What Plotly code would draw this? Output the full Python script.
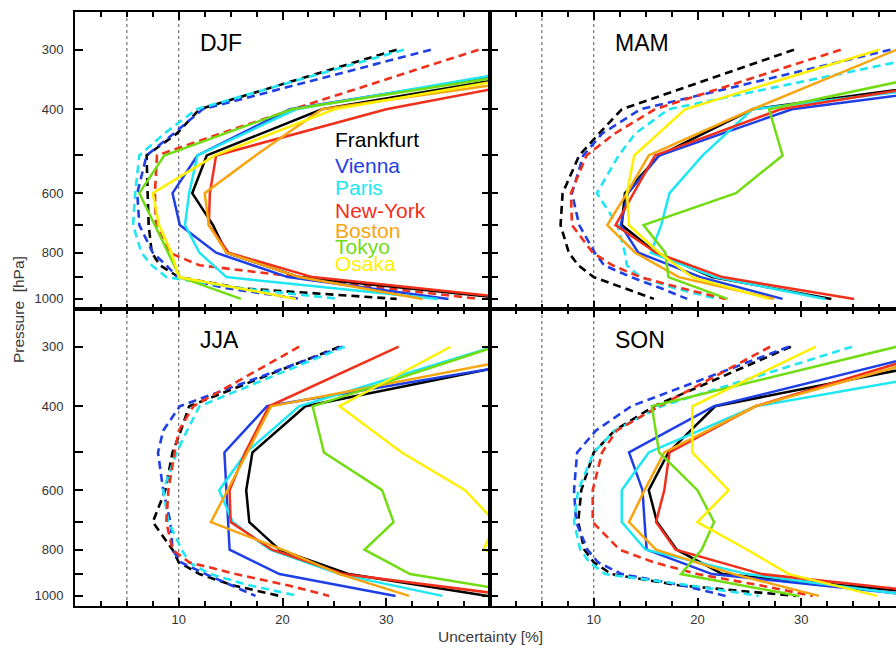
import math
import plotly.graph_objects as go

# ---------------- data ----------------
P_SOLID = [300, 400, 500, 600, 700, 800, 900, 1000]
P_DASHED = [300, 400, 450, 500, 600, 700, 800, 850, 900, 950, 1000]

CITIES = ["Frankfurt", "Vienna", "Paris", "New-York", "Boston", "Tokyo", "Osaka"]
DASHED_CITIES = ["Frankfurt", "Vienna", "Paris", "New-York"]
SEASONS = ["DJF", "MAM", "JJA", "SON"]

DJF_SOLID = {
    "Frankfurt": [58, 23.8, 12.7, 11.3, 13.3, 14.6, 21.6, 42],
    "Vienna":    [56.5, 20.7, 11.8, 9.4, 10.1, 13.6, 20.5, 36.0],
    "Paris":     [54.5, 21.3, 11.8, 11.0, 10.6, 12.0, 14.6, 35.0],
    "New-York":  [60, 30, 13.6, 13.0, 12.9, 14.8, 22.9, 43],
    "Boston":    [64.3, 23.8, 17.4, 12.5, 12.9, 14.6, 21.6, 33.5],
    "Tokyo":     [57.9, 20.9, 8.6, 6.2, 7.7, 9.0, 10.1, 16.0],
    "Osaka":     [58, 25, 13.5, 7.5, 8.1, 9.3, 10.0, 21.3],
}
DJF_DASHED = {
    "Frankfurt": [31, 12.0, 9.8, 6.9, 7.0, 7.1, 7.4, 8.2, 10.0, 16.0, 31.0],
    "Vienna":    [34.3, 12.3, 9.5, 6.9, 6.0, 6.2, 7.5, 8.8, 9.9, 14.6, 21.8],
    "Paris":     [31.7, 11.7, 8.6, 6.2, 5.8, 5.6, 6.4, 7.4, 8.8, 16.0, 25.5],
    "New-York":  [38.9, 21.0, 14.0, 7.9, 7.7, 7.8, 9.1, 12.0, 21.6, 30.0, 39.0],
}
MAM_SOLID = {
    "Frankfurt": [68, 25.3, 16.3, 13.0, 12.7, 16.0, 21.4, 32.9],
    "Vienna":    [73, 29.1, 16.3, 13.3, 12.6, 14.3, 20.3, 28.2],
    "Paris":     [74, 25.3, 20.5, 17.3, 16.5, 15.5, 21.7, 32.3],
    "New-York":  [64, 28.0, 15.9, 13.8, 12.1, 16.0, 22.4, 35.1],
    "Boston":    [39.2, 25.3, 15.3, 13.2, 11.3, 14.0, 18.2, 27.4],
    "Tokyo":     [54, 26.9, 28.2, 23.7, 14.8, 16.9, 17.2, 22.9],
    "Osaka":     [37.5, 18.8, 13.9, 13.2, 13.4, 16.3, 19.5, 26.9],
}
MAM_DASHED = {
    "Frankfurt": [29.3, 12.7, 10.5, 8.6, 7.0, 6.8, 7.6, 8.5, 10.0, 13.0, 15.8],
    "Vienna":    [38.6, 14.5, 10.8, 9.0, 7.9, 8.6, 10.1, 11.0, 13.6, 16.5, 19.0],
    "Paris":     [45.0, 17.2, 14.0, 12.4, 10.3, 12.3, 13.0, 13.2, 14.5, 17.8, 21.9],
    "New-York":  [33.8, 15.9, 12.0, 9.3, 7.8, 7.9, 9.9, 11.8, 14.5, 18.5, 22.7],
}
JJA_SOLID = {
    "Frankfurt": [50.6, 22.2, 17.1, 16.5, 16.8, 19.7, 26.4, 39.8],
    "Vienna":    [52.8, 18.5, 14.4, 14.6, 14.7, 14.9, 19.7, 30.9],
    "Paris":     [40.3, 21.6, 16.5, 13.9, 15.2, 18.8, 25.5, 35.4],
    "New-York":  [31.2, 18.7, 16.4, 14.9, 15.0, 19.0, 25.9, 42.5],
    "Boston":    [48.6, 18.9, 16.6, 14.7, 13.1, 20.0, 25.5, 32.2],
    "Tokyo":     [40.5, 22.9, 24.0, 29.6, 30.7, 27.9, 32.3, 45],
    "Osaka":     [36.2, 25.5, 31.5, 37.6, 40.5, 39.4, 48, 55],
}
JJA_DASHED = {
    "Frankfurt": [25.5, 11.0, 10.2, 9.4, 8.7, 7.5, 9.4, 10.0, 12.0, 15.2, 19.7],
    "Vienna":    [25.8, 10.1, 8.5, 8.0, 8.5, 9.2, 9.4, 10.2, 12.6, 15.1, 17.4],
    "Paris":     [26.0, 12.0, 10.8, 9.8, 8.5, 9.0, 10.3, 11.0, 13.0, 16.8, 21.5],
    "New-York":  [21.6, 11.4, 10.0, 9.6, 9.0, 8.8, 9.4, 11.0, 15.5, 20.5, 24.5],
}
SON_SOLID = {
    "Frankfurt": [50.8, 21.7, 17.2, 15.3, 16.1, 18.0, 22.4, 45],
    "Vienna":    [44.8, 21.6, 13.4, 14.7, 14.9, 15.1, 21.4, 41.5],
    "Paris":     [58.4, 25.6, 15.3, 12.7, 12.7, 15.0, 24.8, 41],
    "New-York":  [44.6, 25.6, 17.3, 16.8, 16.0, 17.9, 26.2, 45.6],
    "Boston":    [46.2, 25.6, 16.8, 14.9, 13.4, 16.0, 23.5, 31.7],
    "Tokyo":     [39.2, 15.6, 16.3, 20.0, 21.6, 20.4, 18.4, 29.8],
    "Osaka":     [31.4, 19.5, 19.5, 23.0, 20.0, 24.8, 28.8, 37.3],
}
SON_DASHED = {
    "Frankfurt": [29.0, 15.8, 12.0, 10.0, 8.8, 8.5, 9.1, 10.0, 11.7, 18.2, 29.5],
    "Vienna":    [28.8, 13.6, 10.2, 8.4, 8.1, 8.3, 9.4, 10.4, 12.7, 18.5, 22.7],
    "Paris":     [34.9, 16.5, 12.0, 10.0, 8.5, 8.1, 8.7, 9.6, 11.1, 19.2, 25.9],
    "New-York":  [27.0, 16.3, 12.2, 10.8, 9.9, 9.9, 12.5, 15.8, 20.0, 26.0, 31.1],
}

Y_TICKS = [300, 400, 500, 600, 700, 800, 900, 1000]
Y_TICK_TEXT = ["300", "400", "", "600", "", "800", "", "1000"]
X_TICKS = [10, 20, 30]
X_MINOR = [2.5, 5, 7.5, 12.5, 15, 17.5, 22.5, 25, 27.5, 32.5, 35, 37.5]
REF_LINES = [5, 10]

# ---------------- style ----------------
COLORS = {
    "Frankfurt": "#000000",
    "Vienna": "#1f3fe6",
    "Paris": "#1ee6f2",
    "New-York": "#f0301a",
    "Boston": "#f7a50f",
    "Tokyo": "#72dc12",
    "Osaka": "#fff000",
}
FONT = "Liberation Sans, Arial, Helvetica, sans-serif"
W, H = 896, 649
ML, MR, MT, MB = 75, 0, 12, 43
PW = W - ML - MR
PH = H - MT - MB
DL = 415 / PW
SCALE = 415 / 40.0
XR_RIGHT = (PW - 415) / SCALE

panels = [
    ("DJF", DJF_SOLID, DJF_DASHED, "x", "y"),
    ("MAM", MAM_SOLID, MAM_DASHED, "x2", "y2"),
    ("JJA", JJA_SOLID, JJA_DASHED, "x3", "y3"),
    ("SON", SON_SOLID, SON_DASHED, "x4", "y4"),
]

fig = go.Figure()

for name, solid, dashed, xa, ya in panels:
    for city in DASHED_CITIES:
        fig.add_trace(go.Scatter(
            x=dashed[city], y=P_DASHED, mode="lines", xaxis=xa, yaxis=ya,
            line=dict(color=COLORS[city], width=2.6, dash="8px,5px"),
            showlegend=False, hoverinfo="skip"))
    for city in CITIES:
        fig.add_trace(go.Scatter(
            x=solid[city], y=P_SOLID, mode="lines", xaxis=xa, yaxis=ya,
            line=dict(color=COLORS[city], width=2.5),
            showlegend=False, hoverinfo="skip"))

ylog = [math.log10(1050), math.log10(250)]

def xaxis_cfg(dom, rng, labels, anchor):
    return dict(domain=dom, range=rng, anchor=anchor, showgrid=False, zeroline=False,
                automargin=False,
                showline=True, linecolor="black", linewidth=2, mirror="ticks",
                ticks="inside", tickvals=X_TICKS, ticklen=8, tickwidth=1.5, tickcolor="black",
                showticklabels=labels, tickfont=dict(family=FONT, size=13, color="#333333"),
                minor=dict(tickvals=X_MINOR, ticks="inside", ticklen=5, tickwidth=1.5,
                           tickcolor="black", showgrid=False))

def yaxis_cfg(dom, labels, anchor, mirror):
    return dict(domain=dom, type="log", range=ylog, anchor=anchor, showgrid=False,
                zeroline=False, automargin=False,
                showline=True, linecolor="black", linewidth=2,
                mirror=mirror, ticks="inside", tickvals=Y_TICKS, ticktext=Y_TICK_TEXT,
                ticklen=8, tickwidth=1.5, tickcolor="black", showticklabels=labels,
                ticklabelstandoff=7,
                tickfont=dict(family=FONT, size=13, color="#333333"))

fig.update_layout(
    width=W, height=H, margin=dict(l=ML, r=MR, t=MT, b=MB, autoexpand=False),
    paper_bgcolor="white", plot_bgcolor="white",
    xaxis=xaxis_cfg([0, DL], [0, 40], False, "y"),
    xaxis2=xaxis_cfg([DL, 1], [0, XR_RIGHT], False, "y2"),
    xaxis3=xaxis_cfg([0, DL], [0, 40], True, "y3"),
    xaxis4=xaxis_cfg([DL, 1], [0, XR_RIGHT], True, "y4"),
    yaxis=yaxis_cfg([0.5, 1], True, "x", "ticks"),
    yaxis2=yaxis_cfg([0.5, 1], False, "x2", False),
    yaxis3=yaxis_cfg([0, 0.5], True, "x3", "ticks"),
    yaxis4=yaxis_cfg([0, 0.5], False, "x4", False),
)

shapes = []
annotations = []
for name, solid, dashed, xa, ya in panels:
    for xv in REF_LINES:
        shapes.append(dict(type="line", xref=xa, yref=ya + " domain", x0=xv, x1=xv,
                           y0=0, y1=1, line=dict(color="#555555", width=1, dash="dot"),
                           layer="below"))
    annotations.append(dict(text=name, xref=xa, yref=ya, x=11.9, y=math.log10(290),
                            xanchor="left", yanchor="middle", showarrow=False,
                            font=dict(family=FONT, size=23, color="black")))

legend_p = [464, 526, 585, 651, 720, 778, 841]
for city, p in zip(CITIES, legend_p):
    annotations.append(dict(text=city, xref="x", yref="y", x=24.9, y=math.log10(p),
                            xanchor="left", yanchor="middle", showarrow=False,
                            font=dict(family=FONT, size=21, color=COLORS[city])))

annotations.append(dict(text="Pressure  [hPa]", xref="paper", yref="paper",
                        x=-57 / PW, y=0.5, xanchor="center", yanchor="middle",
                        textangle=-90, showarrow=False,
                        font=dict(family=FONT, size=15.5, color="#3a3a3a")))
annotations.append(dict(text="Uncertainty [%]", xref="paper", yref="paper",
                        x=DL, y=-30 / PH, xanchor="center", yanchor="middle",
                        showarrow=False, font=dict(family=FONT, size=15.5, color="#3a3a3a")))

fig.update_layout(shapes=shapes, annotations=annotations)
fig.write_html("out.html", config={"displayModeBar": False},
               post_script="document.body.style.margin='0';document.body.style.overflow='hidden';")
